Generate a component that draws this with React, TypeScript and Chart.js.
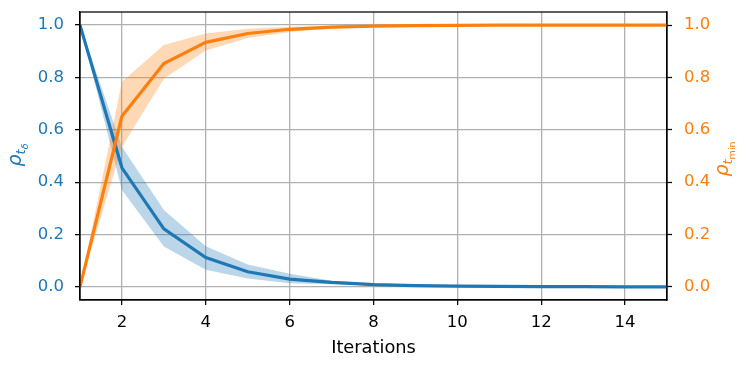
import React, { useEffect, useRef } from "react";
import { Chart, registerables } from "chart.js";

Chart.register(...registerables);

const iterations = [1, 2, 3, 4, 5, 6, 7, 8, 9, 10, 11, 12, 13, 14, 15];
const blueMean = [1.0, 0.455, 0.222, 0.112, 0.058, 0.03, 0.017, 0.009, 0.005, 0.003, 0.002, 0.001, 0.001, 0.0005, 0.0003];
const blueUpper = [1.0, 0.535, 0.294, 0.155, 0.086, 0.05, 0.024, 0.014, 0.008, 0.005, 0.003, 0.002, 0.0015, 0.001, 0.0006];
const blueLower = [1.0, 0.37, 0.154, 0.066, 0.032, 0.014, 0.01, 0.005, 0.003, 0.0015, 0.001, 0.0005, 0.0003, 0.0002, 0.0001];
const orangeMean = [0.0, 0.652, 0.853, 0.934, 0.968, 0.984, 0.992, 0.996, 0.998, 0.999, 0.9995, 0.9997, 0.9998, 0.9999, 1.0];
const orangeUpper = [0.0, 0.784, 0.924, 0.968, 0.986, 0.994, 0.997, 0.999, 0.9995, 0.9998, 0.9999, 1.0, 1.0, 1.0, 1.0];
const orangeLower = [0.0, 0.535, 0.795, 0.903, 0.951, 0.974, 0.987, 0.993, 0.996, 0.998, 0.999, 0.9994, 0.9996, 0.9998, 0.9999];
const xTicks = [2, 4, 6, 8, 10, 12, 14];
const yTicks = [0, 0.2, 0.4, 0.6, 0.8, 1.0];

const BLUE = "#1f77b4";
const ORANGE = "#ff7f0e";
const FONT = "'DejaVu Sans', sans-serif";

const pts = (ys: number[]) => iterations.map((x, i) => ({ x, y: ys[i] }));

function drawRho(ctx: CanvasRenderingContext2D, cx: number, cy: number, baseX: number, sub: string, subsub: string, subsubItalic: boolean, color: string) {
  ctx.save();
  ctx.translate(cx, cy);
  ctx.rotate(-Math.PI / 2);
  ctx.fillStyle = color;
  ctx.textBaseline = "alphabetic";
  ctx.textAlign = "left";
  const f1 = `italic 19px ${FONT}`;
  const f2 = `italic 13px ${FONT}`;
  const f3 = `${subsubItalic ? "italic " : ""}9.5px ${FONT}`;
  ctx.font = f1;
  const w1 = ctx.measureText("ρ").width;
  ctx.font = f2;
  const w2 = ctx.measureText(sub).width;
  ctx.font = f3;
  const w3 = ctx.measureText(subsub).width;
  const total = w1 + w2 + w3;
  let x = -total / 2;
  ctx.font = f1;
  ctx.fillText("ρ", x, baseX);
  x += w1;
  ctx.font = f2;
  ctx.fillText(sub, x, baseX + 4);
  x += w2;
  ctx.font = f3;
  ctx.fillText(subsub, x, baseX + 7);
  ctx.restore();
}

const framePlugin = {
  id: "frame",
  afterDraw(chart: any) {
    const { ctx, chartArea } = chart;
    ctx.save();
    ctx.strokeStyle = "#000";
    ctx.lineWidth = 1.25;
    ctx.strokeRect(chartArea.left, chartArea.top, chartArea.right - chartArea.left, chartArea.bottom - chartArea.top);
    ctx.restore();
    drawRho(ctx, 17, 155, 4, "t", "δ", true, BLUE);
    drawRho(ctx, 724, 159, 4, "t", "min", false, ORANGE);
  },
};

export default function App() {
  const ref = useRef<HTMLCanvasElement | null>(null);
  useEffect(() => {
    document.body.style.margin = "0";
    const canvas = ref.current!;
    const tickFont = { family: FONT, size: 16.5 };
    const fitY = (w: number) => (s: any) => { s.width = w; s.paddingTop = 0; s.paddingBottom = 0; };
    const chart = new Chart(canvas, {
      type: "line",
      data: {
        datasets: [
          { data: pts(blueUpper), yAxisID: "y", borderWidth: 0, pointRadius: 0, fill: false, order: 5, backgroundColor: "rgba(31,119,180,0.3)" },
          { data: pts(blueLower), yAxisID: "y", borderWidth: 0, pointRadius: 0, fill: "-1", order: 5, backgroundColor: "rgba(31,119,180,0.3)" },
          { data: pts(orangeUpper), yAxisID: "y1", borderWidth: 0, pointRadius: 0, fill: false, order: 4, backgroundColor: "rgba(255,127,14,0.3)" },
          { data: pts(orangeLower), yAxisID: "y1", borderWidth: 0, pointRadius: 0, fill: "-1", order: 4, backgroundColor: "rgba(255,127,14,0.3)" },
          { data: pts(blueMean), yAxisID: "y", borderColor: BLUE, borderWidth: 3.2, pointRadius: 0, fill: false, order: 2 },
          { data: pts(orangeMean), yAxisID: "y1", borderColor: ORANGE, borderWidth: 3.2, pointRadius: 0, fill: false, order: 1 },
        ],
      } as any,
      options: {
        animation: false,
        responsive: false,
        maintainAspectRatio: false,
        layout: { padding: { top: 12, left: 0, right: 0, bottom: 0 } },
        plugins: { legend: { display: false }, tooltip: { enabled: false } },
        scales: {
          x: {
            type: "linear",
            min: 1,
            max: 15,
            afterBuildTicks: (s: any) => { s.ticks = xTicks.map((v) => ({ value: v })); },
            afterFit: (s: any) => { s.height = 70; s.paddingLeft = 0; s.paddingRight = 0; },
            grid: { color: "#b0b0b0", lineWidth: 1.3, tickColor: "#000", tickLength: 5, tickWidth: 1.25 },
            border: { color: "#000", width: 1.25 },
            ticks: { color: "#000", font: tickFont, padding: 8, maxRotation: 0, callback: (v: any) => String(v) },
            title: { display: true, text: "Iterations", color: "#000", font: { family: FONT, size: 17.8 }, padding: { top: 0, bottom: 11 } },
          },
          y: {
            position: "left",
            min: -0.05,
            max: 1.05,
            afterBuildTicks: (s: any) => { s.ticks = yTicks.map((v) => ({ value: v })); },
            afterFit: fitY(80),
            grid: { color: "#b0b0b0", lineWidth: 1.3, tickColor: "#000", tickLength: 5, tickWidth: 1.25 },
            border: { color: "#000", width: 1.25 },
            ticks: { color: BLUE, font: tickFont, padding: 11, callback: (v: any) => Number(v).toFixed(1) },
          },
          y1: {
            position: "right",
            min: -0.05,
            max: 1.05,
            afterBuildTicks: (s: any) => { s.ticks = yTicks.map((v) => ({ value: v })); },
            afterFit: fitY(81),
            grid: { drawOnChartArea: false, color: "#b0b0b0", tickColor: "#000", tickLength: 5, tickWidth: 1.25 },
            border: { color: "#000", width: 1.25 },
            ticks: { color: ORANGE, font: tickFont, padding: 12, callback: (v: any) => Number(v).toFixed(1) },
          },
        },
      } as any,
      plugins: [framePlugin],
    });
    return () => chart.destroy();
  }, []);
  return (
    <div style={{ width: 748, height: 370, background: "#fff" }}>
      <canvas ref={ref} width={748} height={370} style={{ display: "block" }} />
    </div>
  );
}
